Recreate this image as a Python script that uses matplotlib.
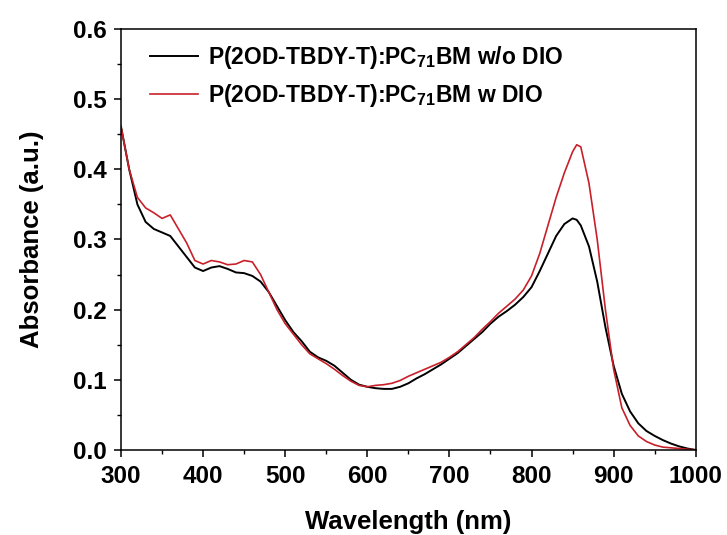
import matplotlib
matplotlib.use("Agg")
import matplotlib.pyplot as plt
from matplotlib.ticker import MultipleLocator

plt.rcParams['font.family'] = ['Liberation Sans', 'DejaVu Sans']
plt.rcParams['font.weight'] = 'bold'
plt.rcParams['mathtext.fontset'] = 'custom'
plt.rcParams['mathtext.bf'] = 'Liberation Sans:bold'
plt.rcParams['mathtext.rm'] = 'Liberation Sans:bold'
plt.rcParams['mathtext.default'] = 'bf'

wavelength = [300, 310, 320, 330, 340, 350, 360, 370, 380, 390, 400, 410, 420, 430,
              440, 450, 460, 470, 480, 490, 500, 510, 520, 530, 540, 550, 560, 570,
              580, 590, 600, 610, 620, 630, 640, 650, 660, 670, 680, 690, 700, 710,
              720, 730, 740, 750, 760, 770, 780, 790, 800, 810, 820, 830, 840, 850,
              855, 860, 870, 880, 890, 900, 910, 920, 930, 940, 950, 960, 970, 980,
              990, 1000]

abs_no_dio = [0.461, 0.400, 0.350, 0.325, 0.315, 0.310, 0.305, 0.290, 0.275, 0.260,
              0.255, 0.260, 0.262, 0.258, 0.253, 0.252, 0.248, 0.240, 0.225, 0.205,
              0.185, 0.168, 0.155, 0.140, 0.132, 0.127, 0.120, 0.110, 0.100, 0.093,
              0.090, 0.088, 0.087, 0.087, 0.090, 0.095, 0.102, 0.108, 0.115, 0.122,
              0.130, 0.138, 0.148, 0.158, 0.168, 0.180, 0.190, 0.198, 0.207, 0.218,
              0.232, 0.255, 0.280, 0.305, 0.322, 0.330, 0.328, 0.320, 0.290, 0.240,
              0.175, 0.120, 0.080, 0.055, 0.038, 0.027, 0.020, 0.014, 0.009, 0.005,
              0.002, 0.000]

abs_dio = [0.461, 0.400, 0.360, 0.345, 0.338, 0.330, 0.335, 0.315, 0.295, 0.270,
           0.265, 0.270, 0.268, 0.264, 0.265, 0.270, 0.268, 0.250, 0.225, 0.200,
           0.180, 0.165, 0.150, 0.137, 0.130, 0.123, 0.115, 0.106, 0.098, 0.092,
           0.090, 0.092, 0.093, 0.095, 0.099, 0.105, 0.110, 0.115, 0.120, 0.125,
           0.132, 0.140, 0.150, 0.160, 0.172, 0.183, 0.195, 0.205, 0.215, 0.228,
           0.248, 0.280, 0.320, 0.360, 0.395, 0.425, 0.435, 0.432, 0.380, 0.300,
           0.200, 0.115, 0.060, 0.035, 0.020, 0.012, 0.007, 0.004, 0.003, 0.002,
           0.001, 0.000]

labels = ['P(2OD-TBDY-T):PC$_{71}$BM w/o DIO', 'P(2OD-TBDY-T):PC$_{71}$BM w DIO']

fig = plt.figure(figsize=(7.27, 5.35), dpi=100)
ax = fig.add_axes([0.1664, 0.159, 0.7906, 0.7868])

ax.plot(wavelength, abs_no_dio, color='black', lw=1.4, label=labels[0])
ax.plot(wavelength, abs_dio, color='#c8202a', lw=1.2, label=labels[1])

ax.set_xlim(300, 1000)
ax.set_ylim(0, 0.6)
ax.xaxis.set_major_locator(MultipleLocator(100))
ax.xaxis.set_minor_locator(MultipleLocator(50))
ax.yaxis.set_major_locator(MultipleLocator(0.1))
ax.yaxis.set_minor_locator(MultipleLocator(0.05))
ax.tick_params(which='major', direction='out', length=5, width=1.1, labelsize=17.5)
ax.tick_params(axis='y', pad=5)
ax.tick_params(axis='x', pad=6)
ax.tick_params(which='minor', direction='out', length=3, width=1.0)
for sp in ax.spines.values():
    sp.set_linewidth(1.1)
ax.set_yticklabels([f"{v:.1f}" for v in ax.get_yticks()])

ax.set_xlabel("Wavelength (nm)", fontsize=18.5, fontweight='bold', labelpad=16)
ax.set_ylabel("Absorbance (a.u.)", fontsize=18.5, fontweight='bold', labelpad=21)

ax.legend(loc='upper left', frameon=False, fontsize=16.5, handlelength=2.1,
          handletextpad=0.45, labelspacing=0.5, borderaxespad=0, borderpad=0,
          bbox_to_anchor=(0.05, 0.965))

fig.savefig("out.png", dpi=100)
